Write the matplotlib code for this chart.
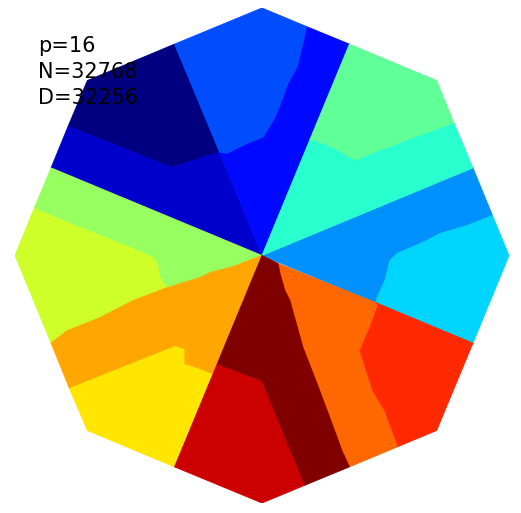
import numpy as np
import matplotlib
matplotlib.use("Agg")
import matplotlib.pyplot as plt

# header numbers
p = 16
N = 32768
D = 32256

# partition outlines, unit octagon centred on 0
part0 = [(-0.354, 0.854), (-0.707, 0.707), (-0.785, 0.522), (-0.364, 0.356), (-0.172, 0.418)]
part1 = [(-0.785, 0.522), (-0.854, 0.354), (0.0, 0.0), (-0.172, 0.418), (-0.364, 0.356)]
part2 = [(0.18, 0.925), (0.354, 0.854), (0.0, 0.0), (-0.172, 0.418), (-0.142, 0.413),
         (-0.061, 0.453), (0.004, 0.478), (0.053, 0.559), (0.081, 0.628), (0.105, 0.696),
         (0.142, 0.761), (0.166, 0.858)]
part3 = [(-0.354, 0.854), (0.0, 1.0), (0.18, 0.925), (0.166, 0.858), (0.142, 0.761),
         (0.105, 0.696), (0.081, 0.628), (0.053, 0.559), (0.004, 0.478), (-0.061, 0.453),
         (-0.142, 0.413), (-0.172, 0.418)]
part4 = [(0.0, 0.0), (0.854, 0.354), (0.933, 0.162), (0.830, 0.121), (0.721, 0.089),
         (0.652, 0.053), (0.547, 0.008), (0.518, -0.020), (0.498, -0.101), (0.466, -0.170),
         (0.462, -0.191)]
part5 = [(0.933, 0.162), (1.0, 0.0), (0.854, -0.354), (0.462, -0.191), (0.466, -0.170),
         (0.498, -0.101), (0.518, -0.020), (0.547, 0.008), (0.652, 0.053), (0.721, 0.089),
         (0.830, 0.121)]
part6 = [(0.0, 0.0), (0.193, 0.466), (0.215, 0.466), (0.287, 0.437), (0.377, 0.385),
         (0.425, 0.405), (0.559, 0.457), (0.692, 0.506), (0.777, 0.536), (0.854, 0.354)]
part7 = [(0.354, 0.854), (0.707, 0.707), (0.777, 0.536), (0.692, 0.506), (0.559, 0.457),
         (0.425, 0.405), (0.377, 0.385), (0.287, 0.437), (0.215, 0.466), (0.193, 0.466)]
part8 = [(-0.854, 0.354), (0.0, 0.0), (-0.117, -0.045), (-0.211, -0.069), (-0.251, -0.089),
         (-0.385, -0.130), (-0.413, -0.089), (-0.425, -0.032), (-0.441, -0.008),
         (-0.522, 0.028), (-0.656, 0.081), (-0.789, 0.134), (-0.923, 0.190)]
part9 = [(-0.923, 0.190), (-1.0, 0.0), (-0.854, -0.354), (-0.789, -0.304), (-0.656, -0.251),
         (-0.522, -0.182), (-0.385, -0.130), (-0.413, -0.089), (-0.425, -0.032),
         (-0.441, -0.008), (-0.522, 0.028), (-0.656, 0.081), (-0.789, 0.134)]
part10 = [(-0.354, -0.854), (-0.707, -0.707), (-0.781, -0.534), (-0.352, -0.364),
          (-0.312, -0.377), (-0.312, -0.437), (-0.251, -0.457), (-0.198, -0.478)]
part11 = [(0.0, 0.0), (-0.117, -0.045), (-0.211, -0.069), (-0.251, -0.089), (-0.385, -0.130),
          (-0.522, -0.182), (-0.656, -0.251), (-0.789, -0.304), (-0.854, -0.354),
          (-0.781, -0.534), (-0.352, -0.364), (-0.312, -0.377), (-0.312, -0.437),
          (-0.251, -0.457), (-0.198, -0.478), (-0.181, -0.437)]
part12 = [(0.065, -0.032), (0.462, -0.191), (0.470, -0.202), (0.437, -0.291), (0.397, -0.385),
          (0.449, -0.547), (0.498, -0.628), (0.551, -0.772), (0.354, -0.854), (0.324, -0.789),
          (0.275, -0.656), (0.223, -0.518), (0.166, -0.372), (0.113, -0.182), (0.093, -0.142),
          (0.073, -0.073)]
part13 = [(0.462, -0.191), (0.854, -0.354), (0.707, -0.707), (0.551, -0.772), (0.498, -0.628),
          (0.449, -0.547), (0.397, -0.385), (0.437, -0.291), (0.470, -0.202)]
part14 = [(-0.181, -0.437), (0.0, -0.506), (0.174, -0.928), (0.0, -1.0), (-0.354, -0.854),
          (-0.198, -0.478)]
part15 = [(0.0, 0.0), (0.065, -0.032), (0.073, -0.073), (0.093, -0.142), (0.113, -0.182),
          (0.166, -0.372), (0.223, -0.518), (0.275, -0.656), (0.324, -0.789), (0.354, -0.854),
          (0.174, -0.928), (0.0, -0.506), (-0.181, -0.437)]

parts = [part0, part1, part2, part3, part4, part5, part6, part7,
         part8, part9, part10, part11, part12, part13, part14, part15]

fig = plt.figure(figsize=(5.21, 5.13), dpi=100)
ax = fig.add_axes([15 / 521, 10 / 513, 494 / 521, 495 / 513])

cmap = plt.cm.jet
for i, pts in enumerate(parts):
    pts = np.array(pts)
    c = cmap(i / (p - 1))
    ax.fill(pts[:, 0], pts[:, 1], facecolor=c, edgecolor=c, linewidth=0.6)

ax.text(-0.907, 0.885, "p=%d\nN=%d\nD=%d" % (p, N, D), fontsize=15,
        ha="left", va="top", color="black", linespacing=1.35, zorder=5)

ax.set_xlim(-1, 1)
ax.set_ylim(-1, 1)
ax.axis("off")

plt.savefig("out.png", dpi=100)
